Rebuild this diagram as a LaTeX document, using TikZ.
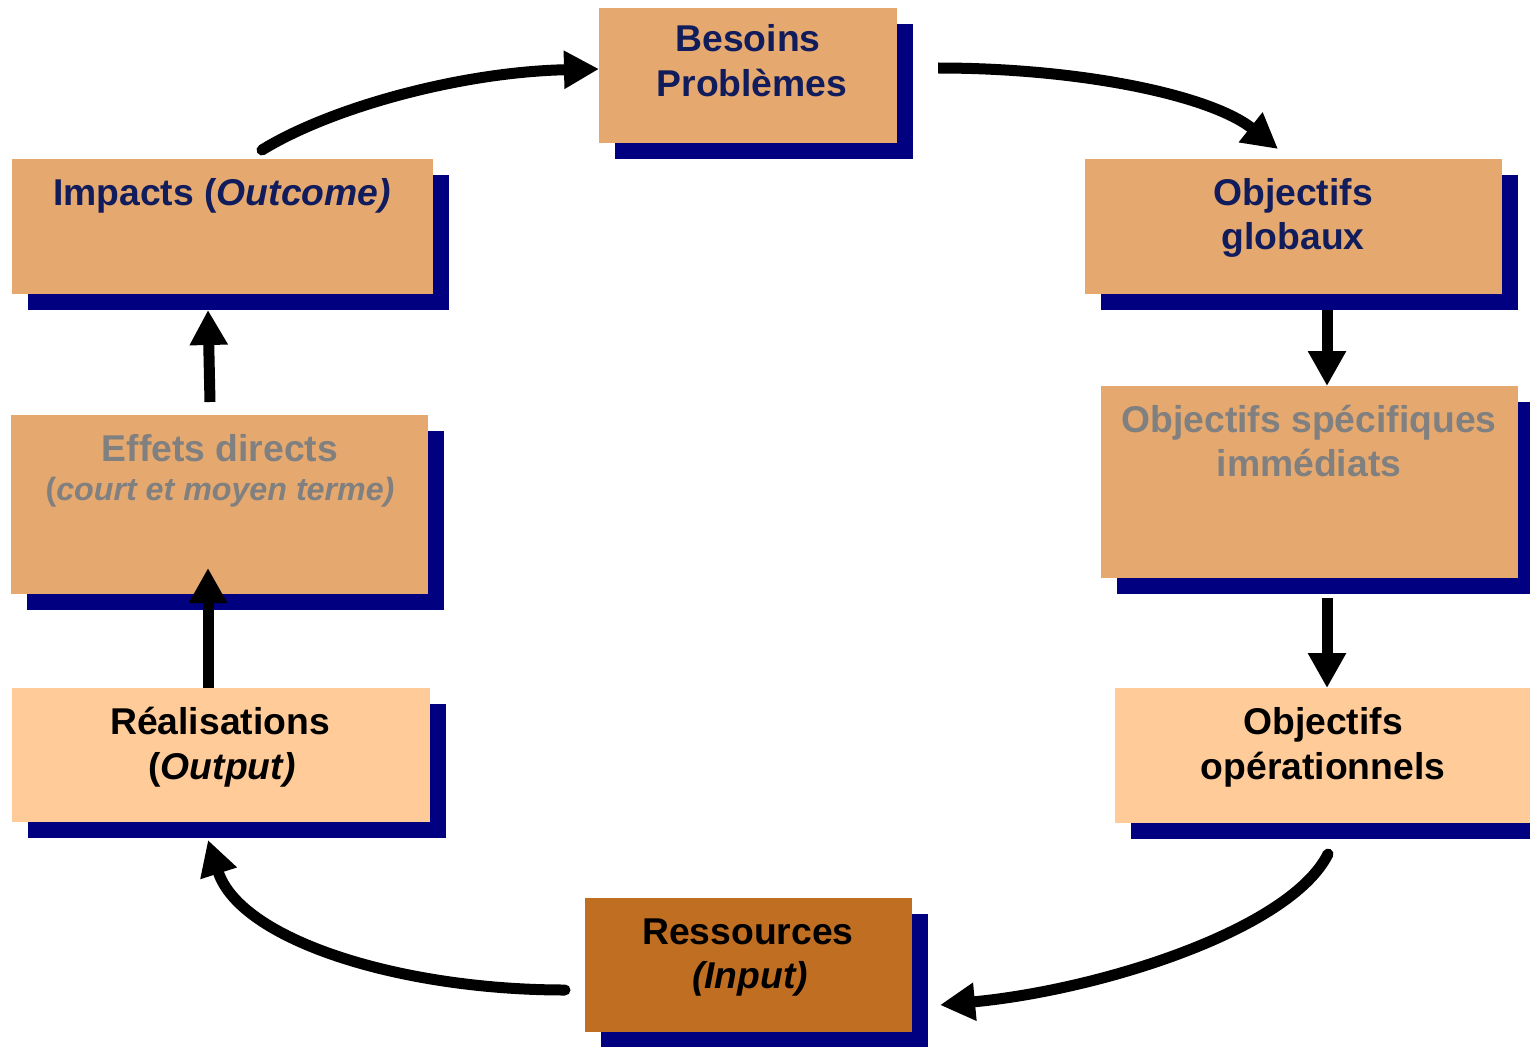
\documentclass[tikz,border=0pt]{standalone}
\usepackage{fontspec}
\setmainfont{Liberation Sans}
\usetikzlibrary{arrows.meta,shadows,calc}
\definecolor{facecol}{RGB}{229,168,111}
\definecolor{lightcol}{RGB}{255,204,153}
\definecolor{rescol}{RGB}{191,110,34}
\definecolor{shadowcol}{RGB}{0,0,128}
\definecolor{navytext}{RGB}{16,28,92}
\definecolor{greytext}{RGB}{128,128,128}
\begin{document}
\begin{tikzpicture}[x=1pt,y=-1pt,
  box/.style={rectangle, fill=facecol, draw=none, inner sep=0pt, outer sep=0pt, anchor=north west,
    general shadow={fill=shadowcol, shadow xshift=16pt, shadow yshift=-16pt}},
  lbl/.style={anchor=base, inner sep=0pt, font=\fontsize{37.3}{45}\selectfont\bfseries},
  sml/.style={anchor=base, inner sep=0pt, font=\fontsize{32.2}{38}\selectfont\bfseries},
  conn/.style={line width=11pt, -{Triangle[length=35pt,width=36pt]}},
  roundstart/.style={line cap=round}
]
\useasboundingbox (0,0) rectangle (1530,1046);

% boxes
\node[box, minimum width=298pt, minimum height=135pt] (bes) at (599,8) {};
\node[box, minimum width=421pt, minimum height=135pt] (imp) at (12,159) {};
\node[box, minimum width=417pt, minimum height=135pt] (glob) at (1085,159) {};
\node[box, minimum width=417pt, minimum height=192pt] (spec) at (1101,386) {};
\node[box, minimum width=417pt, minimum height=179pt] (eff) at (11,415) {};
\node[box, fill=lightcol, minimum width=418pt, minimum height=134pt] (real) at (12,688) {};
\node[box, fill=lightcol, minimum width=415pt, minimum height=135pt] (oper) at (1115,688) {};
\node[box, fill=rescol, minimum width=327pt, minimum height=134pt] (res) at (585,898) {};

% texts
\node[lbl, text=navytext] (besA) at (748,52) {Besoins};
\node[lbl, text=navytext] (besB) at (752,97) {Problèmes};
\node[lbl, text=navytext] (impA) at (222,205) {Impacts (\textit{Outcome)}};
\node[lbl, text=navytext] (globA) at (1293,205) {Objectifs};
\node[lbl, text=navytext] (globB) at (1293,249) {globaux};
\node[lbl, text=greytext] (specA) at (1309,432) {Objectifs spécifiques};
\node[lbl, text=greytext] (specB) at (1309,476) {immédiats};
\node[lbl, text=greytext] (effA) at (220,461) {Effets directs};
\node[sml, text=greytext] (effB) at (220,500) {(\textit{court et moyen terme)}};
\node[lbl, text=black] (realA) at (220,734) {Réalisations};
\node[lbl, text=black] (realB) at (222,779) {(\textit{Output)}};
\node[lbl, text=black] (operA) at (1323,734) {Objectifs};
\node[lbl, text=black] (operB) at (1323,779) {opérationnels};
\node[lbl, text=black] (resA) at (748,944) {Ressources};
\node[lbl, text=black] (resB) at (750,988) {\textit{(Input)}};

% connector end points
\coordinate (a1s) at ($(imp.north west)+(250,-9)$);
\coordinate (a1e) at ($(bes.west)+(0,-6.5)$);
\coordinate (a2s) at ($(bes.east)+(41,-7.5)$);
\coordinate (a2e) at ($(glob.north west)+(193,-10)$);
\coordinate (a3s) at ($(glob.south west)+(242,16)$);
\coordinate (a3e) at ($(spec.north west)+(226,0)$);
\coordinate (a4s) at ($(spec.south west)+(226,20)$);
\coordinate (a4e) at ($(oper.north west)+(212,0)$);
\coordinate (a5s) at ($(oper.south west)+(213,31)$);
\coordinate (a5e) at ($(res.east)+(28,40)$);
\coordinate (a6s) at ($(res.west)+(-20,25)$);
\coordinate (a6e) at ($(real.south west)+(196,18)$);
\coordinate (a7s) at ($(real.north west)+(196,0)$);
\coordinate (a7e) at ($(eff.north west)+(197,153)$);
\coordinate (a8s) at ($(eff.north west)+(199,-13)$);
\coordinate (a8e) at ($(imp.south west)+(196,16)$);

% connectors
\draw[conn, roundstart] (a1s) .. controls (330,108) and (460,72) .. (a1e);
\draw[conn] (a2s) .. controls (1080,68) and (1210,95) .. (a2e);
\draw[conn] (a3s) -- (a3e);
\draw[conn] (a4s) -- (a4e);
\draw[conn, roundstart] (a5s) .. controls (1290,930) and (1100,990) .. (a5e);
\draw[conn, roundstart] (a6s) .. controls (400,990) and (240,940) .. (a6e);
\draw[conn] (a7s) -- (a7e);
\draw[conn] (a8s) -- (a8e);
\end{tikzpicture}
\end{document}
